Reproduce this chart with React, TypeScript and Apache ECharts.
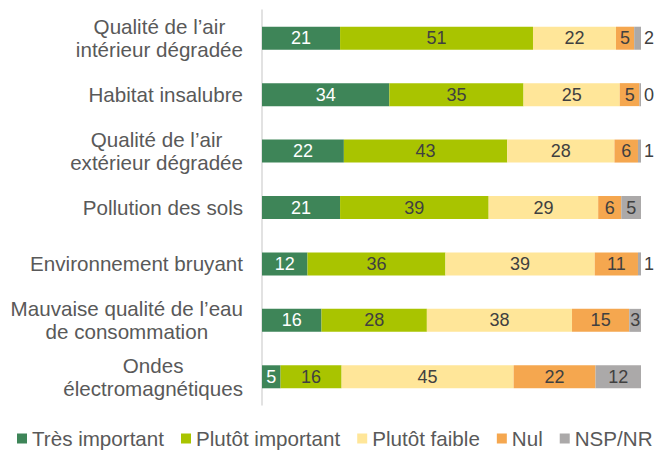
import React, { useEffect, useRef } from "react";
import * as echarts from "echarts";

const categories = [
  "Qualité de l’air\nintérieur dégradée",
  "Habitat insalubre",
  "Qualité de l’air\nextérieur dégradée",
  "Pollution des sols",
  "Environnement bruyant",
  "Mauvaise qualité de l’eau\nde consommation",
  "Ondes\nélectromagnétiques",
];

const seriesNames = ["Très important", "Plutôt important", "Plutôt faible", "Nul", "NSP/NR"];

const tresImportant = [20.6, 33.6, 21.6, 20.6, 12.0, 15.7, 4.9];
const plutotImportant = [50.9, 35.4, 43.1, 39.2, 36.4, 27.8, 16.1];
const plutotFaible = [21.9, 25.4, 28.3, 28.9, 39.4, 38.3, 45.4];
const nul = [4.8, 5.2, 6.2, 6.1, 11.4, 15.1, 21.6];
const nspNr = [1.8, 0.4, 0.8, 5.2, 0.8, 3.1, 12.0];

const colors = ["#3E8558", "#A9C400", "#FFE699", "#F5A74F", "#ABA9A9"];
const labelColors = ["#FFFFFF", "#404040", "#404040", "#404040", "#404040"];

export default function App() {
  const ref = useRef<HTMLDivElement>(null);

  useEffect(() => {
    if (!ref.current) return;
    const chart = echarts.init(ref.current, undefined, { renderer: "svg" });
    const allData = [tresImportant, plutotImportant, plutotFaible, nul, nspNr];
    const font = "'Liberation Sans', Arial, sans-serif";

    const series = allData.map((vals, si) => ({
      name: seriesNames[si],
      type: "bar",
      stack: "total",
      barWidth: 23,
      itemStyle: { color: colors[si] },
      label: {
        show: true,
        position: "inside",
        color: labelColors[si],
        fontSize: 18,
        fontFamily: font,
        formatter: (p: any) => String(Math.round(p.value)),
      },
      data: vals.map((v) =>
        si === 4 && v < 2.5
          ? { value: v, label: { position: "right", distance: 3, color: "#404040" } }
          : v
      ),
    }));

    chart.setOption({
      animation: false,
      backgroundColor: "#FFFFFF",
      grid: { left: 262, right: 17, top: 10, bottom: 45, containLabel: false },
      xAxis: { type: "value", min: 0, max: 100, show: false },
      yAxis: {
        type: "category",
        inverse: true,
        data: categories,
        axisLine: { show: true, lineStyle: { color: "#D9D9D9", width: 1.5 } },
        axisTick: { show: false },
        splitLine: { show: false },
        axisLabel: {
          margin: 19,
          color: "#595959",
          fontSize: 20.6,
          fontFamily: font,
          lineHeight: 23,
          align: "right",
          formatter: (v: string) =>
            v
              .split("\n")
              .map((l) => "{c|" + l + "}")
              .join("\n"),
          rich: {
            c: {
              align: "center",
              color: "#595959",
              fontSize: 20.6,
              fontFamily: font,
              lineHeight: 23,
            },
          },
        },
      },
      legend: {
        top: 428,
        left: 17,
        padding: 0,
        itemWidth: 10,
        itemHeight: 10,
        itemGap: 17,
        icon: "rect",
        textStyle: { color: "#595959", fontSize: 20.6, fontFamily: font },
        data: seriesNames,
      },
      series,
    });

    return () => chart.dispose();
  }, []);

  return <div ref={ref} style={{ width: 658, height: 450, position: "absolute", left: 0, top: 0 }} />;
}
